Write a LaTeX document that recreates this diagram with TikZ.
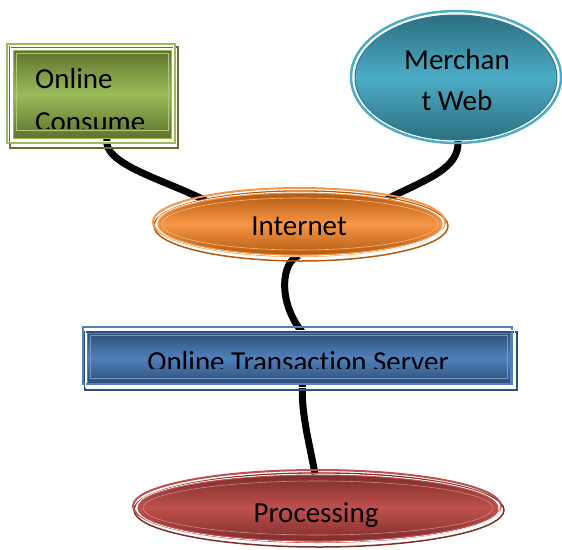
\documentclass[tikz,border=0pt]{standalone}
\usepackage{fontspec}
\setmainfont{Carlito}[Ligatures=NoCommon]
\usetikzlibrary{shapes.geometric,calc,backgrounds}
\definecolor{grnL}{HTML}{9BBB59}
\definecolor{grnD}{HTML}{5E742E}
\definecolor{tealL}{HTML}{4BACC6}
\definecolor{tealD}{HTML}{2C6F80}
\definecolor{orgL}{HTML}{F79646}
\definecolor{orgD}{HTML}{B35A10}
\definecolor{bluL}{HTML}{4F81BD}
\definecolor{bluD}{HTML}{2E4F78}
\definecolor{redL}{HTML}{C0504D}
\definecolor{redD}{HTML}{7E2E2C}
\begin{document}
\begin{tikzpicture}[x=1pt,y=-1pt,
  lbl/.style={font=\fontsize{29}{34}\selectfont, anchor=base, inner sep=0pt, text=black},
  wire/.style={line width=7pt, black},
  shadeit/.style 2 args={top color=#1, bottom color=#1, middle color=#2},
  boxshape/.style={rectangle, inner sep=0pt, line width=1pt},
  ovalshape/.style={ellipse, inner sep=0pt, line width=1pt},
]
\useasboundingbox (0,0) rectangle (562,549);

% ---------- Online Consume ----------
\draw[grnD, line width=1.5pt] (10,47) rectangle (178,148);
\draw[grnL, line width=2pt] (7,44) rectangle (175,143);
\draw[white, line width=0.8pt] (10,46.5) rectangle (173,141);
\node[boxshape, shadeit={grnD}{grnL}, draw=grnL, minimum width=158, minimum height=88] (cons) at (92,94) {};
\draw[grnL!80!white, line width=0.6pt] (16,53) rectangle (168,130);
\begin{scope}
  \clip (13,50) rectangle (171,128.5);
  \node[lbl, anchor=base west] (t1) at (35,88) {Online};
  \node[lbl, anchor=base west] (t2) at (35,131) {Consume};
\end{scope}

% ---------- Merchant Web ----------
\draw[tealL, line width=2.5pt] (456,77) ellipse (105 and 66);
\draw[white, line width=1pt] (456,77) ellipse (102.5 and 63.5);
\node[ovalshape, shadeit={tealD}{tealL}, draw=tealL!70!black, minimum width=202, minimum height=125] (merch) at (456,77.5) {};
\node[lbl] (t3) at (457,69) {Merchan};
\node[lbl] (t4) at (457,110) {t Web};

% ---------- Internet ----------
\draw[orgD, line width=1.5pt] (301,226) ellipse (147 and 35);
\draw[orgL, line width=2pt] (299,222) ellipse (146 and 34);
\draw[white, line width=0.8pt] (300,224) ellipse (144 and 32);
\node[ovalshape, shadeit={orgD}{orgL}, draw=orgL, minimum width=284, minimum height=62] (inet) at (300,224) {};
\draw[orgL!70!white, line width=0.6pt] (300,224) ellipse (138 and 26);
\node[lbl] (t5) at (299,235) {Internet};

% ---------- Online Transaction Server ----------
\draw[bluD, line width=1.5pt] (85,332) rectangle (517,390);
\draw[bluL, line width=2pt] (83,327) rectangle (512,384);
\draw[white, line width=0.8pt] (85,330) rectangle (514,387);
\node[boxshape, shadeit={bluD}{bluL}, draw=bluL, minimum width=423, minimum height=50] (server) at (298.5,358) {};
\draw[bluL!80!white, line width=0.6pt] (90,335) rectangle (507,378);
\begin{scope}
  \clip (87,333) rectangle (510,368);
  \node[lbl] (t6) at (298,371) {Online Transaction Server};
\end{scope}

% ---------- Processing ----------
\draw[redD, line width=1.5pt] (319,510) ellipse (185 and 37);
\draw[redL, line width=2pt] (317,506) ellipse (184 and 36);
\draw[white, line width=0.8pt] (318,508) ellipse (182 and 34);
\node[ovalshape, shadeit={redD}{redL}, draw=redL, minimum width=360, minimum height=66] (proc) at (318,508) {};
\draw[redL!70!white, line width=0.6pt] (318,508) ellipse (175 and 27);
\node[lbl] (t7) at (316,522) {Processing};

% ---------- connectors ----------
\begin{scope}[on background layer]
  \draw[wire] ([xshift=15pt]cons.south) .. controls ++(-5,25) and ++(-45,-22) .. (inet.166);
  \draw[wire] ([xshift=2pt]merch.south) .. controls ++(2,28) and ++(40,-20) .. (inet.16);
  \draw[wire] ([xshift=-1pt]inet.south) .. controls ++(-18,6) and ++(-25,-30) .. ([xshift=4pt]server.north);
  \draw[wire] ([xshift=4pt]server.south) .. controls ++(-2,30) and ++(-4,-25) .. ([xshift=-3pt]proc.north);
\end{scope}
\end{tikzpicture}
\end{document}
